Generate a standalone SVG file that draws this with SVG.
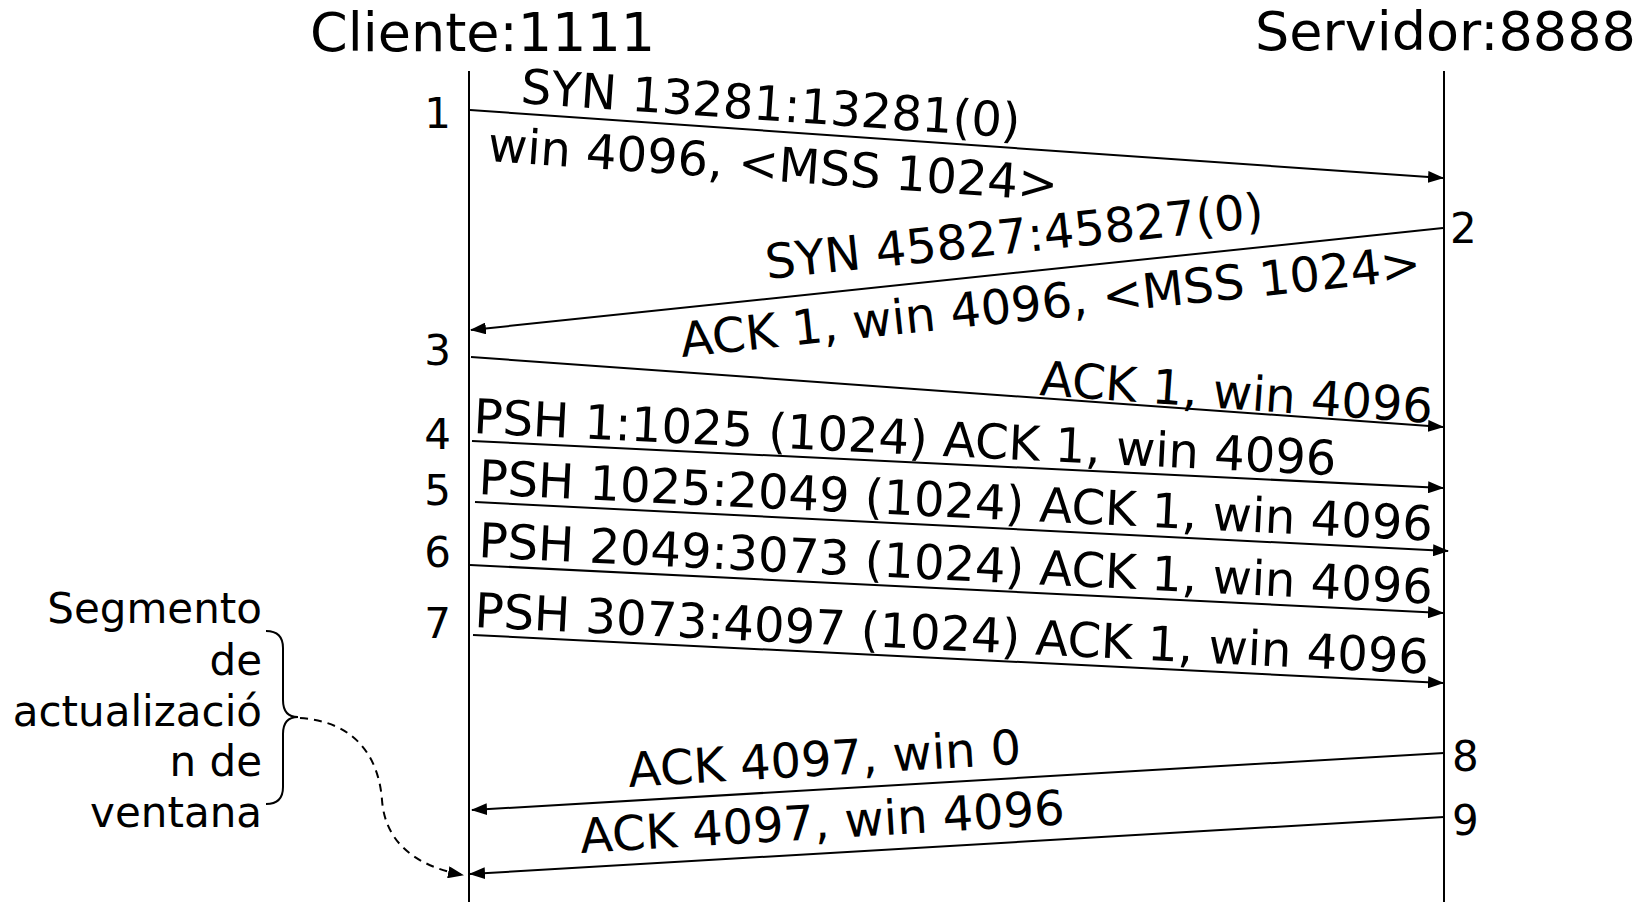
<svg xmlns="http://www.w3.org/2000/svg" width="1641" height="902" viewBox="0 0 1641 902">
  <style>
    text { font-family: "DejaVu Sans", "Liberation Sans", sans-serif; fill: #000; }
    .title { font-size: 54px; }
    .msg { font-size: 48px; }
    .num { font-size: 42px; }
    .note { font-size: 42px; text-anchor: end; }
    .life { stroke: #000; stroke-width: 2; fill: none; }
    .arrow { stroke: #000; stroke-width: 2; fill: none; marker-end: url(#head); }
    .dashed { stroke: #000; stroke-width: 2; fill: none; stroke-dasharray: 8 6; marker-end: url(#head); }
  </style>
  <defs>
    <marker id="head" markerUnits="userSpaceOnUse" markerWidth="16" markerHeight="12" viewBox="0 0 16 12" refX="15" refY="6" orient="auto">
      <path d="M0,0 L16,6 L0,12 z" fill="#000"/>
    </marker>
  </defs>
  <rect width="1641" height="902" fill="#fff"/>

  <!-- participants -->
  <g id="cliente">
    <text class="title" x="310" y="51">Cliente:1111</text>
    <line class="life" x1="469" y1="71" x2="469" y2="902"/>
  </g>
  <g id="servidor">
    <text class="title" x="1255" y="50">Servidor:8888</text>
    <line class="life" x1="1444" y1="71" x2="1444" y2="902"/>
  </g>

  <!-- segment messages -->
  <g id="connectors">
    <line class="arrow" x1="470" y1="110" x2="1443" y2="178"/>
    <line class="arrow" x1="1443" y1="228" x2="471" y2="330"/>
    <line class="arrow" x1="471" y1="357" x2="1443" y2="427"/>
    <line class="arrow" x1="472" y1="441" x2="1443" y2="488"/>
    <line class="arrow" x1="475" y1="502" x2="1448" y2="551"/>
    <line class="arrow" x1="470" y1="565" x2="1443" y2="613"/>
    <line class="arrow" x1="473" y1="635" x2="1443" y2="683"/>
    <line class="arrow" x1="1444" y1="753" x2="472" y2="810"/>
    <line class="arrow" x1="1444" y1="817" x2="470" y2="874"/>
    <path class="dashed" d="M300,718 C358,722 379,760 382,800 C385,842 415,866 463,875"/>
  </g>

  <!-- message labels -->
  <g id="m1">
    <text class="msg" x="520" y="103" transform="rotate(4 520 103)">SYN 13281:13281(0)</text>
    <text class="msg" x="487" y="161" transform="rotate(4 487 161)">win 4096, &lt;MSS 1024&gt;</text>
    <text class="num" x="451" y="128" text-anchor="end">1</text>
  </g>
  <g id="m2">
    <text class="msg" x="767" y="279" transform="rotate(-6 767 279)">SYN 45827:45827(0)</text>
    <text class="msg" x="682" y="357" transform="rotate(-6 682 357)">ACK 1, win 4096, &lt;MSS 1024&gt;</text>
    <text class="num" x="1450" y="243">2</text>
  </g>
  <g id="m3">
    <text class="msg" x="1039" y="395" transform="rotate(4.1 1039 395)">ACK 1, win 4096</text>
    <text class="num" x="451" y="365" text-anchor="end">3</text>
  </g>
  <g id="m4">
    <text class="msg" x="473" y="433" transform="rotate(2.8 473 433)">PSH 1:1025 (1024) ACK 1, win 4096</text>
    <text class="num" x="451" y="449" text-anchor="end">4</text>
  </g>
  <g id="m5">
    <text class="msg" x="478" y="494" transform="rotate(2.8 478 494)">PSH 1025:2049 (1024) ACK 1, win 4096</text>
    <text class="num" x="451" y="505" text-anchor="end">5</text>
  </g>
  <g id="m6">
    <text class="msg" x="478" y="557" transform="rotate(2.8 478 557)">PSH 2049:3073 (1024) ACK 1, win 4096</text>
    <text class="num" x="451" y="567" text-anchor="end">6</text>
  </g>
  <g id="m7">
    <text class="msg" x="474" y="627" transform="rotate(2.8 474 627)">PSH 3073:4097 (1024) ACK 1, win 4096</text>
    <text class="num" x="451" y="638" text-anchor="end">7</text>
  </g>
  <g id="m8">
    <text class="msg" x="629" y="787" transform="rotate(-3.4 629 787)">ACK 4097, win 0</text>
    <text class="num" x="1452" y="771">8</text>
  </g>
  <g id="m9">
    <text class="msg" x="581" y="853" transform="rotate(-3.4 581 853)">ACK 4097, win 4096</text>
    <text class="num" x="1452" y="835">9</text>
  </g>

  <!-- window update note with brace -->
  <g id="nota">
    <text class="note" x="262" y="623">Segmento</text>
    <text class="note" x="262" y="675">de</text>
    <text class="note" x="262" y="726">actualizació</text>
    <text class="note" x="262" y="776">n de</text>
    <text class="note" x="262" y="827">ventana</text>
    <path d="M266,631 C278,631 283,637 283,648 L283,700 C283,711 288,717 298,717 C288,717 283,723 283,734 L283,787 C283,798 278,804 266,804" fill="none" stroke="#000" stroke-width="2"/>
  </g>
</svg>
